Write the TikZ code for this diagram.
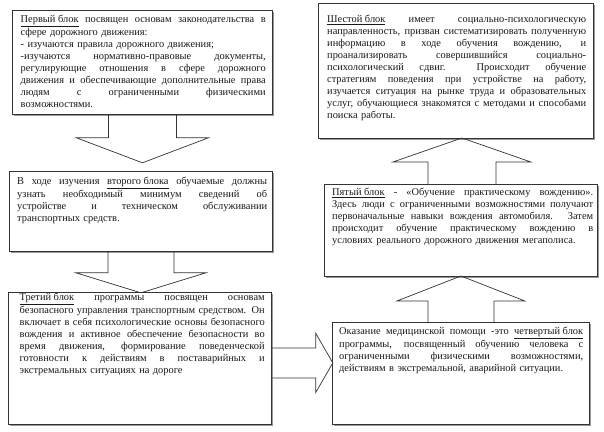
\documentclass[tikz,border=0pt]{standalone}
\usepackage{fontspec}
\setmainfont{Liberation Serif}
\usetikzlibrary{shadows,calc}
\newcommand{\jl}[1]{\makebox[\hsize][s]{\spaceskip=0pt\xspaceskip=0pt\rule{0pt}{8pt}#1}}
\newcommand{\pl}[1]{\rule{0pt}{8pt}#1}
\begin{document}
\begin{tikzpicture}[x=1pt,y=-1pt,
  box/.style={draw=black!80, line width=0.8pt, fill=white, rectangle, inner sep=0pt, anchor=north west,
    drop shadow={shadow xshift=1.3pt, shadow yshift=-1.3pt, fill=black!40, opacity=1}},
  txt/.style={anchor=north west, inner sep=0pt, align=left, text=black!90,
    font=\fontsize{10.4}{12}\selectfont},
  barrow/.style={draw=black!80, line width=0.7pt, line join=miter}]
\useasboundingbox[fill=white] (0,0) rectangle (604,431);

% boxes
\node[box, minimum width=260, minimum height=104] (b1) at (12,10) {};
\node[box, minimum width=263, minimum height=80]  (b2) at (9,171) {};
\node[box, minimum width=263, minimum height=132] (b3) at (8,292) {};
\node[box, minimum width=257, minimum height=102] (b4) at (332,322) {};
\node[box, minimum width=273, minimum height=92]  (b5) at (324,184) {};
\node[box, minimum width=275, minimum height=135] (b6) at (318,3) {};

% texts
\node[txt, text width=245] (t1) at (20.5,14.3) {%
\jl{\underline{Первый блок} посвящен основам законодательства в}\\
\pl{сфере дорожного движения:}\\
\pl{- изучаются правила дорожного движения;}\\
\jl{-изучаются нормативно-правовые документы,}\\
\jl{регулирующие отношения в сфере дорожного}\\
\jl{движения и обеспечивающие дополнительные права}\\
\jl{людям с ограниченными физическими}\\
\pl{возможностями.}};

\node[txt, text width=250] (t2) at (17,176) {%
\jl{В ходе изучения \underline{второго блока} обучаемые должны}\\
\jl{узнать необходимый минимум сведений об}\\
\jl{устройстве и техническом обслуживании}\\
\pl{транспортных средств.}};

\node[txt, text width=245] (t3) at (19.5,292) {%
\jl{\underline{Третий блок} программы посвящен основам}\\
\jl{безопасного управления транспортным средством. Он}\\
\jl{включает в себя психологические основы безопасного}\\
\jl{вождения и активное обеспечение безопасности во}\\
\jl{время движения, формирование поведенческой}\\
\jl{готовности к действиям в поставарийных и}\\
\pl{экстремальных ситуациях на дороге}};

\node[txt, text width=244] (t4) at (339,326.3) {%
\jl{Оказание медицинской помощи -это \underline{четвертый блок}}\\
\jl{программы, посвященный обучению человека с}\\
\jl{ограниченными физическими возможностями,}\\
\pl{действиям в экстремальной, аварийной ситуации.}};

\node[txt, text width=261] (t5) at (332,187.3) {%
\jl{\underline{Пятый блок} - «Обучение практическому вождению».}\\
\jl{Здесь люди с ограниченными возможностями получают}\\
\jl{первоначальные навыки вождения автомобиля. Затем}\\
\jl{происходит обучение практическому вождению в}\\
\pl{условиях реального дорожного движения мегаполиса.}};

\node[txt, text width=259] (t6) at (327,14.3) {%
\jl{\underline{Шестой блок} имеет социально-психологическую}\\
\jl{направленность, призван систематизировать полученную}\\
\jl{информацию в ходе обучения вождению, и}\\
\jl{проанализировать совершившийся социально-}\\
\jl{психологический сдвиг.\ \ Происходит обучение}\\
\jl{стратегиям поведения при устройстве на работу,}\\
\jl{изучается ситуация на рынке труда и образовательных}\\
\jl{услуг, обучающиеся знакомятся с методами и способами}\\
\pl{поиска работы.}};

% block arrows
\draw[barrow] ($(b1.south)+(-34,0)$) -- ++(0,23) -- ++(-32,0) -- ++(66,25) -- ++(66,-25) -- ++(-32,0) -- ++(0,-23);
\draw[barrow] ($(b2.south)+(-33,0)$) -- ++(0,21) -- ++(-32,0) -- ++(65,20) -- ++(65,-20) -- ++(-32,0) -- ++(0,-21);
\draw[barrow] ($(b3.east)+(0,-10.5)$) -- ++(44,0) -- ++(0,-14.5) -- ++(17,29.5) -- ++(-17,29.5) -- ++(0,-14.5) -- ++(-44,0);
\draw[barrow] ($(b4.north)+(-33,0)$) -- ++(0,-21) -- ++(-31,0) -- ++(64,-25) -- ++(64,25) -- ++(-31,0) -- ++(0,21);
\draw[barrow] ($(b5.north)+(-33,0)$) -- ++(0,-22) -- ++(-35,0) -- ++(69,-24) -- ++(69,24) -- ++(-35,0) -- ++(0,22);
\end{tikzpicture}
\end{document}
